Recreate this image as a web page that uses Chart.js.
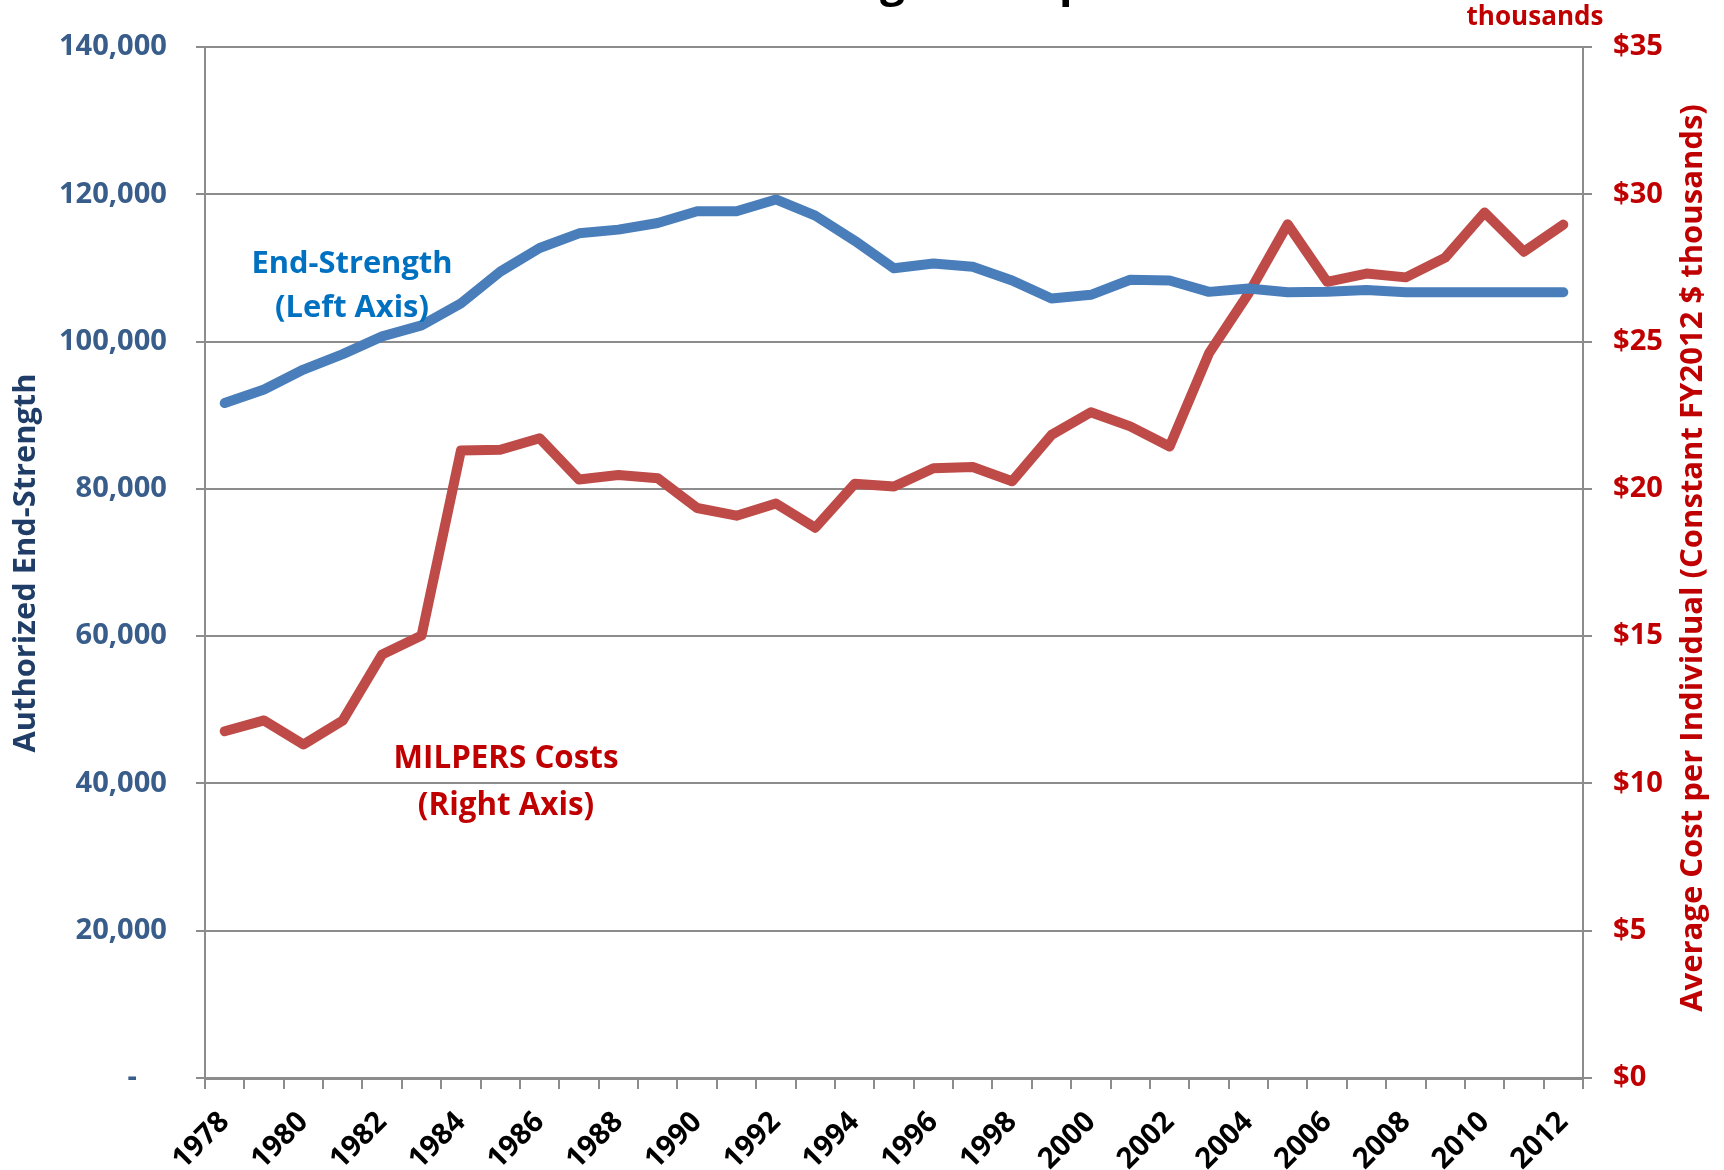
<!DOCTYPE html>
<html>
<head>
<meta charset="utf-8">
<script src="https://cdn.jsdelivr.net/npm/chart.js@4.4.1/dist/chart.umd.min.js"></script>
<style>
  body { margin: 0; background: #fff; }
  canvas { display: block; }
</style>
</head>
<body>
<canvas id="lineChart" width="1724" height="1170"></canvas>
<script>
const years = [
  '1978','1979','1980','1981','1982','1983','1984','1985','1986','1987',
  '1988','1989','1990','1991','1992','1993','1994','1995','1996','1997',
  '1998','1999','2000','2001','2002','2003','2004','2005','2006','2007',
  '2008','2009','2010','2011','2012'
];
// authorized end-strength (left axis)
const endStrength = [
  91650, 93500, 96200, 98300, 100700, 102200, 105200, 109500, 112700, 114700,
  115200, 116100, 117700, 117700, 119300, 117100, 113700, 109950, 110600, 110150,
  108300, 105850, 106350, 108400, 108300, 106750, 107200, 106700, 106780, 107000,
  106700, 106700, 106700, 106700, 106700
];
// average MILPERS cost per individual, FY2012 $ thousands (right axis)
const milpersCost = [
  11.77, 12.14, 11.32, 12.14, 14.38, 15.02, 21.30, 21.33, 21.72, 20.32,
  20.47, 20.36, 19.35, 19.09, 19.50, 18.68, 20.17, 20.08, 20.70, 20.74,
  20.26, 21.83, 22.60, 22.12, 21.44, 24.60, 26.62, 28.98, 27.03, 27.31,
  27.18, 27.85, 29.38, 28.05, 28.97
];
const leftTicks = [0, 20000, 40000, 60000, 80000, 100000, 120000, 140000];
const rightTicks = [0, 5, 10, 15, 20, 25, 30, 35];

const FAMILY = "'Liberation Sans Narrow', 'Arial Narrow', 'Open Sans', sans-serif";
const BLUE_TXT = '#385D8A';
const RED_TXT = '#C00000';

const measureCtx = document.createElement('canvas').getContext('2d');
function fitSize(text, width) {
  measureCtx.font = 'bold 100px ' + FAMILY;
  return 100 * width / measureCtx.measureText(text).width;
}

// um pouco maior que o ajuste pela largura, para ficar com a altura do original
const tickSize = fitSize('140,000', 101) * 1.07;

/* textos soltos: titulos dos eixos e rotulos das series */
const labelsPlugin = {
  id: 'labelsPlugin',
  afterDraw(chart) {
    const c = chart.ctx;
    c.save();
    c.textAlign = 'center';
    c.textBaseline = 'middle';

    // left axis title
    c.save();
    c.translate(26, 563);
    c.rotate(-Math.PI / 2);
    c.fillStyle = '#1F3D66';
    c.font = 'bold ' + fitSize('Authorized End-Strength', 379) + 'px ' + FAMILY;
    c.fillText('Authorized End-Strength', 0, 0);
    c.restore();

    // right axis title
    const rt = 'Average Cost per Individual (Constant FY2012 $ thousands)';
    c.save();
    c.translate(1693, 558);
    c.rotate(-Math.PI / 2);
    c.fillStyle = RED_TXT;
    c.font = 'bold ' + fitSize(rt, 908) + 'px ' + FAMILY;
    c.fillText(rt, 0, 0);
    c.restore();

    c.fillStyle = RED_TXT;
    c.font = 'bold ' + fitSize('thousands', 137) + 'px ' + FAMILY;
    c.fillText('thousands', 1535, 18);

    // series labels
    let s = fitSize('End-Strength', 201);
    c.fillStyle = '#0070C0';
    c.font = 'bold ' + s + 'px ' + FAMILY;
    c.fillText('End-Strength', 352, 264);
    c.fillText('(Left Axis)', 352, 308);

    s = fitSize('MILPERS Costs', 225);
    c.fillStyle = RED_TXT;
    c.font = 'bold ' + s + 'px ' + FAMILY;
    c.fillText('MILPERS Costs', 506, 759);
    c.fillText('(Right Axis)', 506, 806);

    // chart title, cropped at the top of the picture
    const title = 'End-Strength and per Individual Cost';
    c.font = 'bold 44px ' + FAMILY;
    c.fillStyle = '#000';
    c.textAlign = 'left';
    c.textBaseline = 'alphabetic';
    const tx = 880 - c.measureText('End-Stren').width;
    c.fillText(title, tx, -4);

    c.restore();
  }
};

document.addEventListener('DOMContentLoaded', () => {
  const ctx = document.getElementById('lineChart').getContext('2d');

  const chart = new Chart(ctx, {
    type: 'line',
    data: {
      labels: years,
      datasets: [
        {
          label: 'End-Strength',
          data: endStrength,
          yAxisID: 'y',
          borderColor: '#4A7EBB',
          borderWidth: 10,
          borderCapStyle: 'round',
          borderJoinStyle: 'round',
          pointRadius: 0,
          tension: 0
        },
        {
          label: 'MILPERS Costs',
          data: milpersCost,
          yAxisID: 'y2',
          borderColor: '#BE4B48',
          borderWidth: 10,
          borderCapStyle: 'round',
          borderJoinStyle: 'round',
          pointRadius: 0,
          tension: 0
        }
      ]
    },
    options: {
      responsive: false,
      animation: false,
      layout: { padding: { top: 47, left: 0, right: 0, bottom: 0 } },
      scales: {
        x: {
          offset: true,
          grid: {
            offset: true,
            drawOnChartArea: false,
            drawTicks: true,
            tickLength: 11,
            color: '#8C8C8C',
            lineWidth: 2
          },
          border: { color: '#8C8C8C', width: 3 },
          ticks: {
            autoSkip: false,
            maxRotation: 45,
            minRotation: 45,
            padding: 16,
            color: '#000',
            font: { family: FAMILY, weight: 'bold', size: tickSize },
            callback: (v, i) => i % 2 === 0 ? years[i] : ''
          },
          afterFit: scale => { scale.height = 92; }
        },
        y: {
          position: 'left',
          min: 0,
          max: 140000,
          afterBuildTicks: scale => { scale.ticks = leftTicks.map(v => ({value: v})); },
          grid: { color: '#8C8C8C', lineWidth: 2, tickLength: 9 },
          border: { color: '#8C8C8C', width: 2 },
          ticks: {
            padding: 29,
            color: BLUE_TXT,
            font: { family: FAMILY, weight: 'bold', size: tickSize },
            callback: v => v === 0 ? '-    ' : v.toLocaleString('en-US')
          },
          afterFit: scale => { scale.width = 205; }
        },
        y2: {
          position: 'right',
          min: 0,
          max: 35,
          afterBuildTicks: scale => { scale.ticks = rightTicks.map(v => ({value: v})); },
          grid: { drawOnChartArea: false, color: '#8C8C8C', lineWidth: 2, tickLength: 9 },
          border: { color: '#8C8C8C', width: 2 },
          ticks: {
            padding: 21,
            color: RED_TXT,
            font: { family: FAMILY, weight: 'bold', size: tickSize },
            callback: v => '$' + v
          },
          afterFit: scale => { scale.width = 141; }
        }
      },
      plugins: {
        legend: { display: false },
        tooltip: { enabled: false },
        title: { display: false }
      }
    },
    plugins: [labelsPlugin]
  });
});
</script>
</body>
</html>
